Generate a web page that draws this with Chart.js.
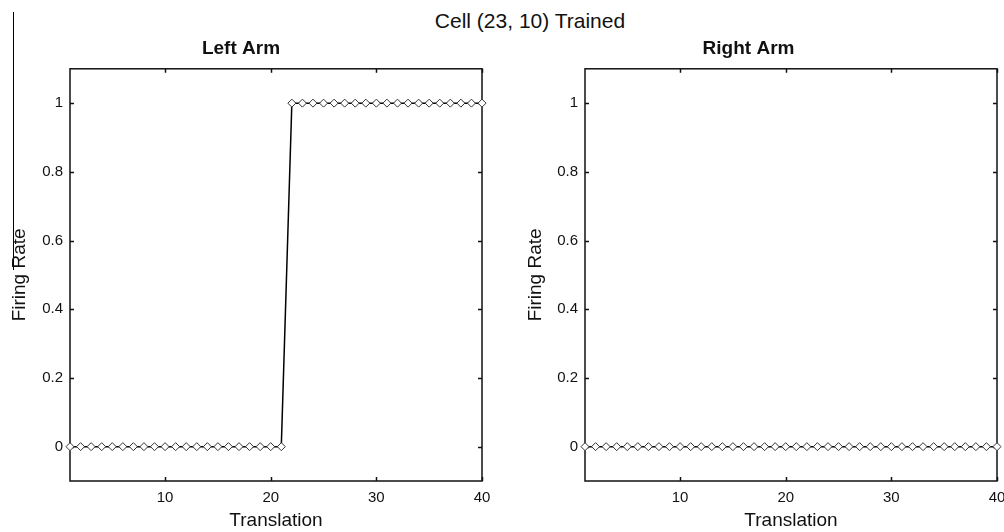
<!DOCTYPE html>
<html>
<head>
<meta charset="utf-8">
<script src="https://cdn.jsdelivr.net/npm/chart.js@4.4.1/dist/chart.umd.min.js"></script>
<style>
  body { margin: 0; background: #fff; }
  #page { position: relative; width: 1004px; height: 532px; overflow: hidden; font-family: "Liberation Sans", Arial, sans-serif; }
  #suptitle { position: absolute; left: 0; width: 1060px; top: 9px; text-align: center; font-size: 21px; color: #111; }
  #edge { position: absolute; left: 13px; top: 12px; width: 1px; height: 258px; background: #000; }
  canvas { position: absolute; top: 0; }
</style>
</head>
<body>
<div id="page">
  <div id="edge"></div>
  <div id="suptitle">Cell (23, 10) Trained</div>
  <canvas id="leftChart" width="500" height="532" style="left:0px"></canvas>
  <canvas id="rightChart" width="504" height="532" style="left:500px"></canvas>
</div>
<script>
// translation steps and firing rates
const translation = [1, 2, 3, 4, 5, 6, 7, 8, 9, 10, 11, 12, 13, 14, 15, 16, 17, 18, 19, 20,
                     21, 22, 23, 24, 25, 26, 27, 28, 29, 30, 31, 32, 33, 34, 35, 36, 37, 38, 39, 40];
const leftArmRate = [0, 0, 0, 0, 0, 0, 0, 0, 0, 0, 0, 0, 0, 0, 0, 0, 0, 0, 0, 0,
                     0, 1, 1, 1, 1, 1, 1, 1, 1, 1, 1, 1, 1, 1, 1, 1, 1, 1, 1, 1];
const rightArmRate = [0, 0, 0, 0, 0, 0, 0, 0, 0, 0, 0, 0, 0, 0, 0, 0, 0, 0, 0, 0,
                      0, 0, 0, 0, 0, 0, 0, 0, 0, 0, 0, 0, 0, 0, 0, 0, 0, 0, 0, 0];
const xTickValues = [10, 20, 30, 40];
const yTickValues = [0, 0.2, 0.4, 0.6, 0.8, 1];

const FONT = '"Liberation Sans", Arial, sans-serif';

// matlab style box with ticks pointing inwards
const boxPlugin = {
  id: 'matlabBox',
  beforeDatasetsDraw(chart) {
    const { ctx, chartArea: a, scales: { x, y } } = chart;
    ctx.save();
    ctx.strokeStyle = '#111';
    ctx.lineWidth = 1.5;
    ctx.strokeRect(a.left, a.top, a.right - a.left, a.bottom - a.top);
    ctx.beginPath();
    x.ticks.forEach(t => {
      const px = Math.round(x.getPixelForValue(t.value)) + 0.5;
      ctx.moveTo(px, a.top); ctx.lineTo(px, a.top + 4);
      ctx.moveTo(px, a.bottom); ctx.lineTo(px, a.bottom - 4);
    });
    y.ticks.forEach(t => {
      const py = Math.round(y.getPixelForValue(t.value)) + 0.5;
      ctx.moveTo(a.left, py); ctx.lineTo(a.left + 4, py);
      ctx.moveTo(a.right, py); ctx.lineTo(a.right - 4, py);
    });
    ctx.stroke();
    ctx.restore();
  }
};

function makeChart(canvasId, title, values, yWidth, yTitlePad, padRight) {
  const points = translation.map((t, i) => ({ x: t, y: values[i] }));
  return new Chart(document.getElementById(canvasId), {
    type: 'scatter',
    data: {
      datasets: [{
        data: points,
        showLine: true,
        borderColor: '#000',
        borderWidth: 1.5,
        pointStyle: 'rectRot',
        pointRadius: 4,
        pointBorderWidth: 1,
        pointBorderColor: '#333',
        pointBackgroundColor: '#fff',
        clip: false
      }]
    },
    options: {
      responsive: false,
      animation: false,
      devicePixelRatio: 1,
      layout: { autoPadding: false, padding: { top: 37, left: 0, right: padRight, bottom: 0 } },
      plugins: {
        legend: { display: false },
        tooltip: { enabled: false },
        title: {
          display: true,
          text: title,
          color: '#111',
          font: { family: FONT, size: 19, weight: 'bold', lineHeight: 1.2 },
          padding: { top: 0, bottom: 9 }
        }
      },
      scales: {
        x: {
          type: 'linear',
          min: 1,
          max: 40,
          grid: { display: false, drawTicks: false },
          border: { display: false },
          afterBuildTicks: s => { s.ticks = xTickValues.map(v => ({ value: v })); },
          afterFit: s => { s.height = 51; s.paddingLeft = 0; s.paddingRight = 0; },
          ticks: { color: '#111', padding: 8, maxRotation: 0, font: { family: FONT, size: 15 }, callback: v => String(v) },
          title: { display: true, text: 'Translation', color: '#111', font: { family: FONT, size: 19, lineHeight: 1 }, padding: { top: 0, bottom: 2 } }
        },
        y: {
          min: -0.1,
          max: 1.1,
          grid: { display: false, drawTicks: false },
          border: { display: false },
          afterBuildTicks: s => { s.ticks = yTickValues.map(v => ({ value: v })); },
          afterFit: s => { s.width = yWidth; s.paddingTop = 0; s.paddingBottom = 0; },
          ticks: { color: '#111', padding: 7, font: { family: FONT, size: 15 }, callback: v => String(v) },
          title: { display: true, text: 'Firing Rate', color: '#111', font: { family: FONT, size: 19, lineHeight: 1 }, padding: { top: yTitlePad, bottom: 0 } }
        }
      }
    },
    plugins: [boxPlugin]
  });
}

makeChart('leftChart', 'Left Arm', leftArmRate, 70, 10, 18);
makeChart('rightChart', 'Right Arm', rightArmRate, 85, 26, 7);
</script>
</body>
</html>
